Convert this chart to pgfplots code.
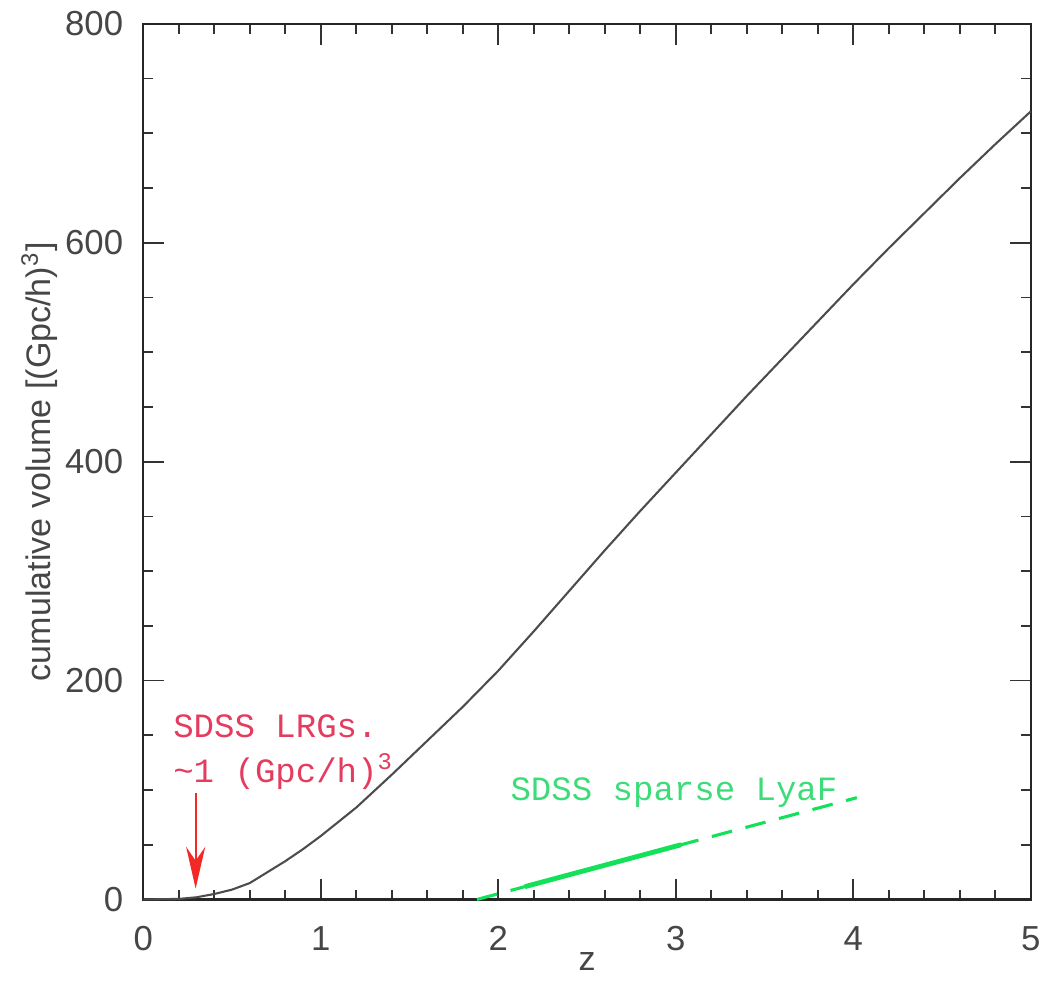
\documentclass[border=0pt]{standalone}
\usepackage{fontspec}
\setmainfont{Liberation Sans}
\newfontfamily\cour{Liberation Mono}
\usepackage{pgfplots}
\pgfplotsset{compat=1.18}
\usetikzlibrary{arrows.meta}

\definecolor{lrgred}{RGB}{228,60,95}
\definecolor{arrred}{RGB}{245,40,40}
\definecolor{lyagreen}{RGB}{20,225,90}
\definecolor{lyatext}{RGB}{60,220,120}
\definecolor{tickgray}{RGB}{70,70,70}

\begin{document}
\begin{tikzpicture}
\begin{axis}[
    name=ax,
    scale only axis,
    width=8.98cm, height=8.86cm,
    xmin=0, xmax=5, ymin=0, ymax=800,
    xtick={0,1,2,3,4,5},
    ytick={0,200,400,600,800},
    minor x tick num=4,
    minor y tick num=3,
    tick align=inside,
    major tick length=0.21cm,
    minor tick length=0.1cm,
    axis line style={black!85, line width=0.6pt},
    every tick/.style={black!80, line width=0.5pt},
    /pgf/number format/assume math mode=true,
    ticklabel style={font=\fontsize{10}{12}\selectfont, text=tickgray},
    xticklabel style={yshift=-0.15cm},
    yticklabel style={xshift=-0.08cm},
    xlabel={z},
    ylabel={cumulative volume [(Gpc/h)\textsuperscript{3}]},
    label style={font=\fontsize{9.8}{11}\selectfont, text=tickgray},
    xlabel style={at={(axis description cs:0.5,-0.071)}, anchor=center},
    ylabel style={at={(axis description cs:-0.117,0.5)}, anchor=center, rotate=0},
    clip=false,
]
% cumulative volume curve
\addplot[black!70, line width=0.6pt] coordinates {
    (0,0) (0.2,0.5) (0.3,2) (0.4,5) (0.5,9) (0.6,15) (0.7,25) (0.8,35)
    (0.9,46) (1.0,58) (1.1,71) (1.2,84) (1.4,114) (1.6,145) (1.8,176)
    (2.0,209) (2.2,245) (2.4,282) (2.6,319) (2.8,355) (3.0,390) (3.2,425)
    (3.4,460) (3.6,494) (3.8,528) (4.0,562) (4.2,595) (4.4,627) (4.6,659)
    (4.8,690) (5.0,720)
};
% sparse LyaF: dashed full range, solid core
\addplot[lyagreen, line width=0.9pt, dash pattern=on 6pt off 4pt] coordinates {
    (1.88,0) (4.02,93)
};
\addplot[lyagreen, line width=1.4pt] coordinates {
    (2.15,11.7) (3.03,50)
};
\node[anchor=west, text=lrgred, font=\cour\fontsize{9.8}{11}\selectfont]
    at (axis cs:0.1,158) {SDSS LRGs.};
\node[anchor=west, text=lrgred, font=\cour\fontsize{9.8}{11}\selectfont]
    at (axis cs:0.1,117) {\textasciitilde1 (Gpc/h)\textsuperscript{3}};
\draw[arrred, line width=0.5pt, -{Stealth[length=12pt, width=5.5pt, inset=4pt]}]
    (axis cs:0.295,97) -- (axis cs:0.295,10);
\node[anchor=west, text=lyatext, font=\cour\fontsize{9.8}{11}\selectfont]
    at (axis cs:2.0,97.5) {SDSS sparse LyaF};
\end{axis}
\path ([xshift=-1.45cm,yshift=-0.79cm]ax.south west) rectangle ([xshift=0.09cm,yshift=0.22cm]ax.north east);
\end{tikzpicture}
\end{document}
